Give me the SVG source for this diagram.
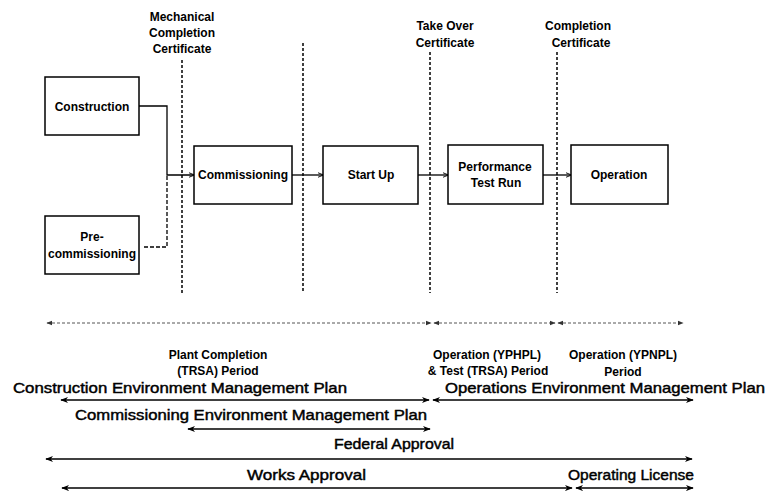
<svg xmlns="http://www.w3.org/2000/svg" width="766" height="491" viewBox="0 0 766 491">
<style>
.box{fill:#fff;stroke:#000;stroke-width:1.5}
.lbl{font-family:"Liberation Sans",Arial,sans-serif;font-weight:bold;font-size:12px;fill:#000;text-anchor:middle}
.big{font-family:"Liberation Sans",Arial,sans-serif;font-weight:normal;font-size:15px;fill:#000;stroke:#000;stroke-width:0.45}
.vdash{stroke:#000;stroke-width:1.5;stroke-dasharray:3,2;fill:none}
.conn{stroke:#000;stroke-width:1.3;fill:none}
.span{stroke:#000;stroke-width:1.6;fill:none}
.tl{stroke:#555;stroke-width:1;stroke-dasharray:3,2;fill:none}
</style>
<defs>
<marker id="ah" viewBox="0 0 10 10" refX="9" refY="5" markerWidth="8" markerHeight="8" markerUnits="userSpaceOnUse" orient="auto-start-reverse">
<path d="M0,1 L10,5 L0,9 L3,5 Z" fill="#000"/>
</marker>
<marker id="as" viewBox="0 0 10 10" refX="9" refY="5" markerWidth="6" markerHeight="6" markerUnits="userSpaceOnUse" orient="auto-start-reverse">
<path d="M0,1 L10,5 L0,9" fill="none" stroke="#000" stroke-width="1.5"/>
</marker>
<marker id="at" viewBox="0 0 10 10" refX="9" refY="5" markerWidth="6" markerHeight="6" markerUnits="userSpaceOnUse" orient="auto-start-reverse">
<path d="M0,1 L10,5 L0,9 Z" fill="#333"/>
</marker>
</defs>

<g id="milestones">
<line class="vdash" x1="182" y1="60" x2="182" y2="293"/>
<line class="vdash" x1="303" y1="43" x2="303" y2="293"/>
<line class="vdash" x1="430" y1="52" x2="430" y2="293"/>
<line class="vdash" x1="557" y1="52" x2="557" y2="293"/>
<text class="lbl"><tspan x="182" y="21">Mechanical</tspan><tspan x="182" y="37">Completion</tspan><tspan x="182" y="53">Certificate</tspan></text>
<text class="lbl"><tspan x="445" y="30">Take Over</tspan><tspan x="445" y="47">Certificate</tspan></text>
<text class="lbl"><tspan x="578" y="30">Completion</tspan><tspan x="581" y="47">Certificate</tspan></text>
</g>

<g id="connectors">
<polyline class="conn" points="139,106 167,106 167,175 194,175" marker-end="url(#as)"/>
<polyline class="conn" points="144,247 167,247 167,175" stroke-dasharray="4,2"/>
<line class="conn" x1="292" y1="175" x2="323" y2="175" marker-end="url(#as)"/>
<line class="conn" x1="418" y1="175" x2="448" y2="175" marker-end="url(#as)"/>
<line class="conn" x1="543" y1="175" x2="571" y2="175" marker-end="url(#as)"/>
</g>

<g id="construction">
<rect class="box" x="45" y="77" width="94" height="58"/>
<text class="lbl" x="92" y="111">Construction</text>
</g>
<g id="precommissioning">
<rect class="box" x="45" y="216" width="94" height="58"/>
<text class="lbl"><tspan x="92" y="241">Pre-</tspan><tspan x="92" y="258">commissioning</tspan></text>
</g>
<g id="commissioning">
<rect class="box" x="194" y="146" width="98" height="58"/>
<text class="lbl" x="243" y="179">Commissioning</text>
</g>
<g id="startup">
<rect class="box" x="323" y="146" width="95" height="58"/>
<text class="lbl" x="371" y="179">Start Up</text>
</g>
<g id="performance">
<rect class="box" x="448" y="145" width="95" height="59"/>
<text class="lbl"><tspan x="495" y="171">Performance</tspan><tspan x="496" y="187">Test Run</tspan></text>
</g>
<g id="operation">
<rect class="box" x="571" y="145" width="97" height="59"/>
<text class="lbl" x="619" y="179">Operation</text>
</g>

<g id="timeline">
<line class="tl" x1="47" y1="323" x2="431" y2="323" marker-start="url(#at)" marker-end="url(#at)"/>
<line class="tl" x1="434" y1="323" x2="555" y2="323" marker-start="url(#at)" marker-end="url(#at)"/>
<line class="tl" x1="558" y1="323" x2="683" y2="323" marker-start="url(#at)" marker-end="url(#at)"/>
</g>

<g id="periods">
<text class="lbl"><tspan x="218" y="359">Plant Completion</tspan><tspan x="218" y="375">(TRSA) Period</tspan></text>
<text class="lbl"><tspan x="487" y="359">Operation (YPHPL)</tspan><tspan x="488" y="375">&amp; Test (TRSA) Period</tspan></text>
<text class="lbl"><tspan x="623" y="359">Operation (YPNPL)</tspan><tspan x="623" y="376">Period</tspan></text>
</g>

<g id="plans">
<text class="big" x="13" y="393" textLength="334" lengthAdjust="spacingAndGlyphs">Construction Environment Management Plan</text>
<line class="span" x1="61" y1="400" x2="429" y2="400" marker-start="url(#ah)" marker-end="url(#ah)"/>
<text class="big" x="445" y="393" textLength="320" lengthAdjust="spacingAndGlyphs">Operations Environment Management Plan</text>
<line class="span" x1="433" y1="400" x2="693" y2="400" marker-start="url(#ah)" marker-end="url(#ah)"/>
<text class="big" x="75" y="420" textLength="352" lengthAdjust="spacingAndGlyphs">Commissioning Environment Management Plan</text>
<line class="span" x1="188" y1="429" x2="430" y2="429" marker-start="url(#ah)" marker-end="url(#ah)"/>
<text class="big" x="334" y="449" textLength="120" lengthAdjust="spacingAndGlyphs">Federal Approval</text>
<line class="span" x1="46" y1="459" x2="692" y2="459" marker-start="url(#ah)" marker-end="url(#ah)"/>
<text class="big" x="247" y="480" textLength="119" lengthAdjust="spacingAndGlyphs">Works Approval</text>
<line class="span" x1="62" y1="488" x2="572" y2="488" marker-start="url(#ah)" marker-end="url(#ah)"/>
<text class="big" x="568" y="480" textLength="126" lengthAdjust="spacingAndGlyphs">Operating License</text>
<line class="span" x1="576" y1="488" x2="693" y2="488" marker-start="url(#ah)" marker-end="url(#ah)"/>
</g>
</svg>
